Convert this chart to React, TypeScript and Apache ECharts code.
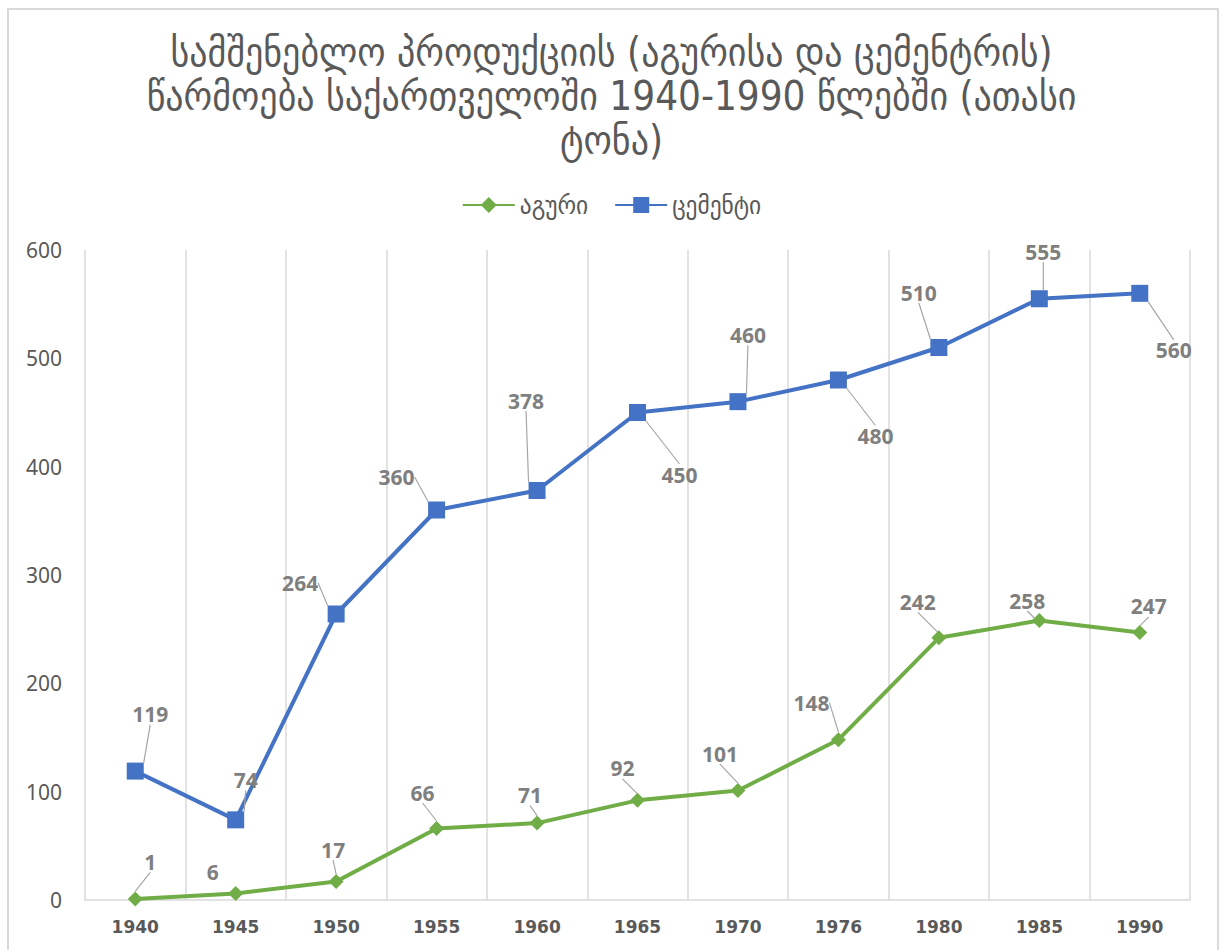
import React, { useEffect, useRef } from "react";
import * as echarts from "echarts";

const years = ["1940", "1945", "1950", "1955", "1960", "1965", "1970", "1976", "1980", "1985", "1990"];
const brick = [1, 6, 17, 66, 71, 92, 101, 148, 242, 258, 247];
const cement = [119, 74, 264, 360, 378, 450, 460, 480, 510, 555, 560];
const brickName = "აგური";
const cementName = "ცემენტი";
const titleText = "სამშენებლო პროდუქციის (აგურისა და ცემენტრის)\nწარმოება საქართველოში 1940-1990 წლებში (ათასი\nტონა)";

// label offsets (pixels) relative to the data point
const cementOffsets: number[][] = [
  [15, -57], [10, -40], [-36, -31], [-40, -33], [-11, -90], [42, 62],
  [10, -67], [37, 56], [-20, -55], [4, -47], [34, 57],
];
const brickOffsets: number[][] = [
  [15, -37], [-23, -22], [-3, -32], [-14, -36], [-7, -28], [-15, -32],
  [-18, -37], [-27, -37], [-21, -36], [-12, -20], [9, -26],
];

export default function App() {
  const ref = useRef<HTMLDivElement>(null);
  useEffect(() => {
    document.body.style.margin = "0";
    const chart = echarts.init(ref.current!, undefined, { renderer: "svg" });
    const labelStyle = {
      show: true,
      position: "inside" as const,
      color: "#7f7f7f",
      fontSize: 21,
      fontWeight: "bold" as const,
      fontFamily: "Noto Sans",
    };
    const labelLine = {
      show: true,
      lineStyle: { color: "#a6a6a6", width: 1.2 },
    };
    chart.setOption({
      animation: false,
      backgroundColor: "#ffffff",
      title: {
        text: titleText,
        left: "center",
        top: 25,
        textStyle: {
          color: "#595959",
          fontSize: 40,
          fontWeight: "normal",
          lineHeight: 44,
          fontFamily: "DejaVu Sans Condensed, DejaVu Sans",
        },
      },
      legend: {
        top: 187,
        left: "center",
        itemWidth: 52,
        itemHeight: 20,
        itemGap: 26,
        textStyle: {
          color: "#595959",
          fontSize: 26,
          fontFamily: "DejaVu Sans Condensed, DejaVu Sans",
        },
        data: [brickName, cementName],
      },
      grid: { left: 85, right: 33, top: 250, bottom: 50 },
      xAxis: {
        type: "category",
        data: years,
        boundaryGap: true,
        axisLine: { lineStyle: { color: "#d9d9d9", width: 1.5 } },
        axisTick: { show: false },
        splitLine: { show: true, lineStyle: { color: "#d9d9d9", width: 1.5 } },
        axisLabel: {
          color: "#595959",
          fontSize: 17,
          fontWeight: "bold",
          fontFamily: "DejaVu Sans",
          margin: 18,
        },
      },
      yAxis: {
        type: "value",
        min: 0,
        max: 600,
        interval: 100,
        axisLine: { show: false },
        axisTick: { show: false },
        splitLine: { show: false },
        axisLabel: {
          color: "#595959",
          fontSize: 21,
          fontFamily: "Noto Sans",
          margin: 23,
        },
      },
      graphic: [
        {
          type: "rect",
          shape: { x: 8, y: 9, width: 1210, height: 1000 },
          style: { fill: "none", stroke: "#d9d9d9", lineWidth: 2 },
          silent: true,
        },
      ],
      series: [
        {
          name: brickName,
          type: "line",
          data: brick.map((v, i) => (i === 1 ? { value: v, labelLine: { show: false } } : v)),
          color: "#70ad47",
          symbol: "diamond",
          symbolSize: 15,
          lineStyle: { width: 4, color: "#70ad47" },
          itemStyle: { color: "#70ad47" },
          label: { ...labelStyle },
          labelLine,
          labelLayout: (p: any) => ({ dx: brickOffsets[p.dataIndex][0], dy: brickOffsets[p.dataIndex][1] }),
          z: 3,
        },
        {
          name: cementName,
          type: "line",
          data: cement,
          color: "#4472c4",
          symbol: "rect",
          symbolSize: 17,
          lineStyle: { width: 4, color: "#4472c4" },
          itemStyle: { color: "#4472c4" },
          label: { ...labelStyle },
          labelLine,
          labelLayout: (p: any) => ({ dx: cementOffsets[p.dataIndex][0], dy: cementOffsets[p.dataIndex][1] }),
          z: 3,
        },
      ],
    });
    return () => chart.dispose();
  }, []);
  return <div ref={ref} style={{ width: 1223, height: 950 }} />;
}
